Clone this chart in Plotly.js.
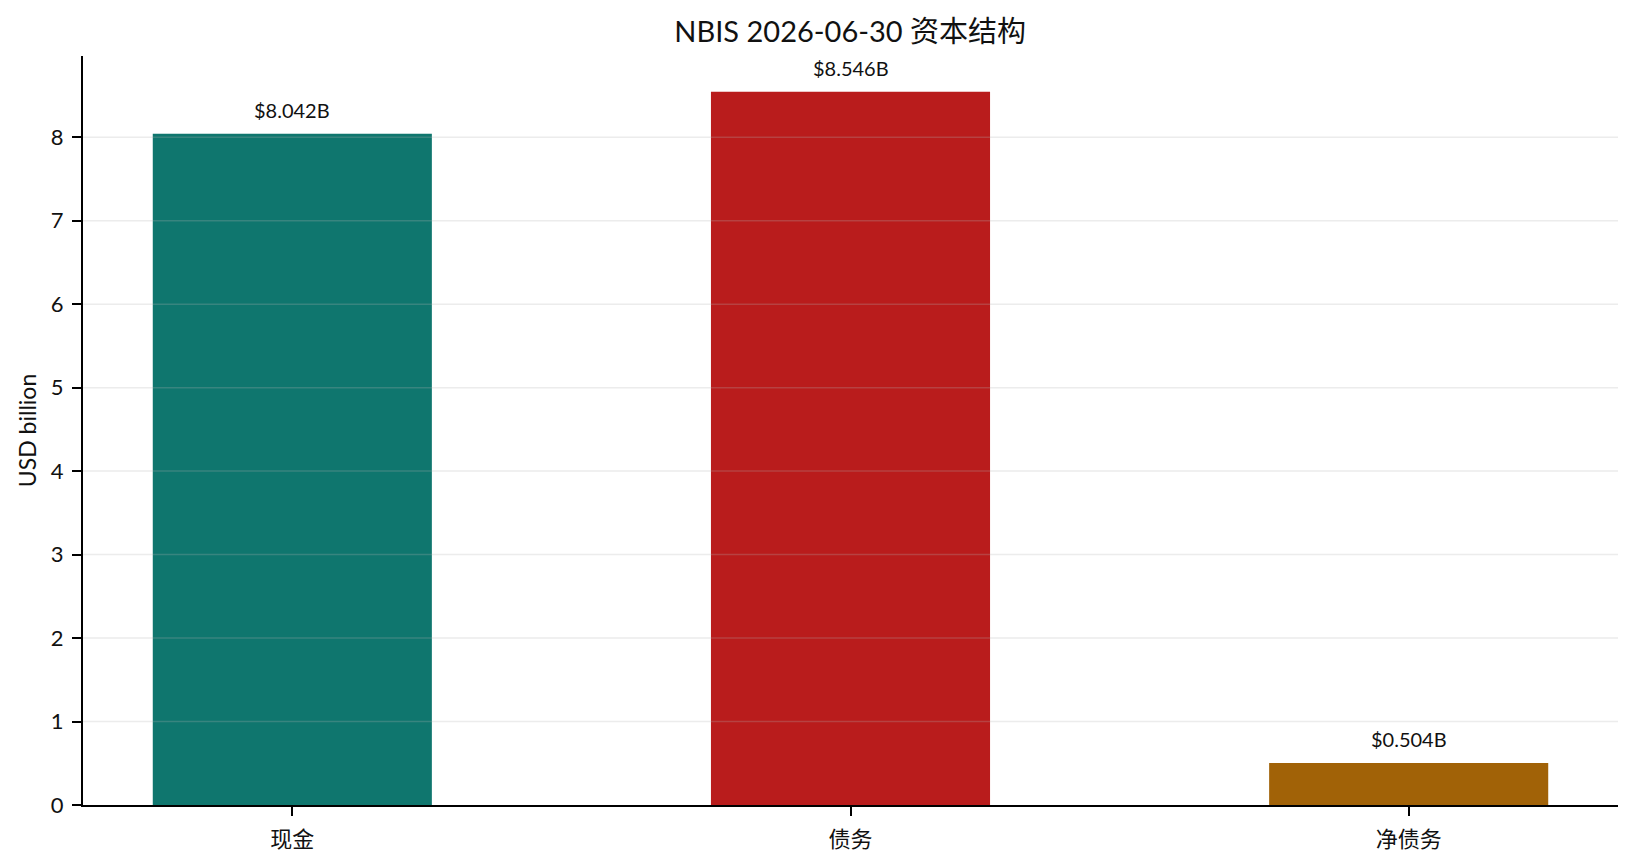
<!DOCTYPE html>
<html>
<head>
<meta charset="utf-8">
<script src="https://cdn.plot.ly/plotly-3.0.1.min.js"></script>
<style>
  html, body { margin: 0; padding: 0; background: #fff; }
  #chart { width: 1635px; height: 865px; }
</style>
</head>
<body>
<div id="chart"></div>
<script>
// data
var categories = ['现金', '债务', '净债务'];
var values = [8.042, 8.546, 0.504];
var barColors = ['#0f766e', '#b91c1c', '#a16207'];
var yTicks = [0, 1, 2, 3, 4, 5, 6, 7, 8];
var chartTitle = 'NBIS 2026-06-30 资本结构';
var yLabel = 'USD billion';

var FONT = 'Lato, "Noto Sans CJK SC", sans-serif';

function fmt(v) {
  return '$' + v.toFixed(3) + 'B';
}

var trace = {
  type: 'bar',
  x: categories,
  y: values,
  width: 0.5,
  marker: { color: barColors, line: { width: 0 } },
  hoverinfo: 'none'
};

// value labels above each bar
var labels = categories.map(function (c, i) {
  return {
    x: c, y: values[i], xref: 'x', yref: 'y',
    text: fmt(values[i]), showarrow: false,
    yanchor: 'bottom', yshift: 10,
    font: { family: FONT, size: 20, color: '#111' }
  };
});

// gridlines drawn over the bars (faint, translucent)
var grid = yTicks.filter(function (t) { return t > 0; }).map(function (t) {
  return {
    type: 'line', xref: 'paper', yref: 'y',
    x0: 0, x1: 1, y0: t, y1: t, layer: 'above',
    line: { color: 'rgba(180,180,180,0.25)', width: 1.5 }
  };
});

var maxVal = Math.max.apply(null, values);

var layout = {
  width: 1635,
  height: 865,
  margin: { l: 83, r: 17, t: 56, b: 60 },
  paper_bgcolor: '#fff',
  plot_bgcolor: '#fff',
  showlegend: false,
  font: { family: FONT, color: '#111' },
  title: {
    text: chartTitle,
    x: 0.52, xanchor: 'center',
    y: 1 - 32 / 865, yanchor: 'middle',
    font: { family: FONT, size: 29, color: '#111' }
  },
  xaxis: {
    type: 'category',
    range: [-0.375, categories.length - 1 + 0.375],
    showline: true, linecolor: '#000', linewidth: 2,
    ticks: 'outside', ticklen: 9, tickwidth: 2, tickcolor: '#000',
    showgrid: false, zeroline: false,
    ticklabelstandoff: 5,
    tickfont: { family: FONT, size: 22, color: '#111' }
  },
  yaxis: {
    range: [0, maxVal * 1.05],
    tickvals: yTicks,
    showline: true, linecolor: '#000', linewidth: 2,
    ticks: 'outside', ticklen: 9, tickwidth: 2, tickcolor: '#000',
    showgrid: false, zeroline: false,
    ticklabelstandoff: 4,
    tickfont: { family: FONT, size: 22, color: '#111' },
    title: { text: yLabel, standoff: 8, font: { family: FONT, size: 23, color: '#111' } }
  },
  annotations: labels,
  shapes: grid
};

Plotly.newPlot('chart', [trace], layout, { displayModeBar: false, staticPlot: true });
</script>
</body>
</html>
